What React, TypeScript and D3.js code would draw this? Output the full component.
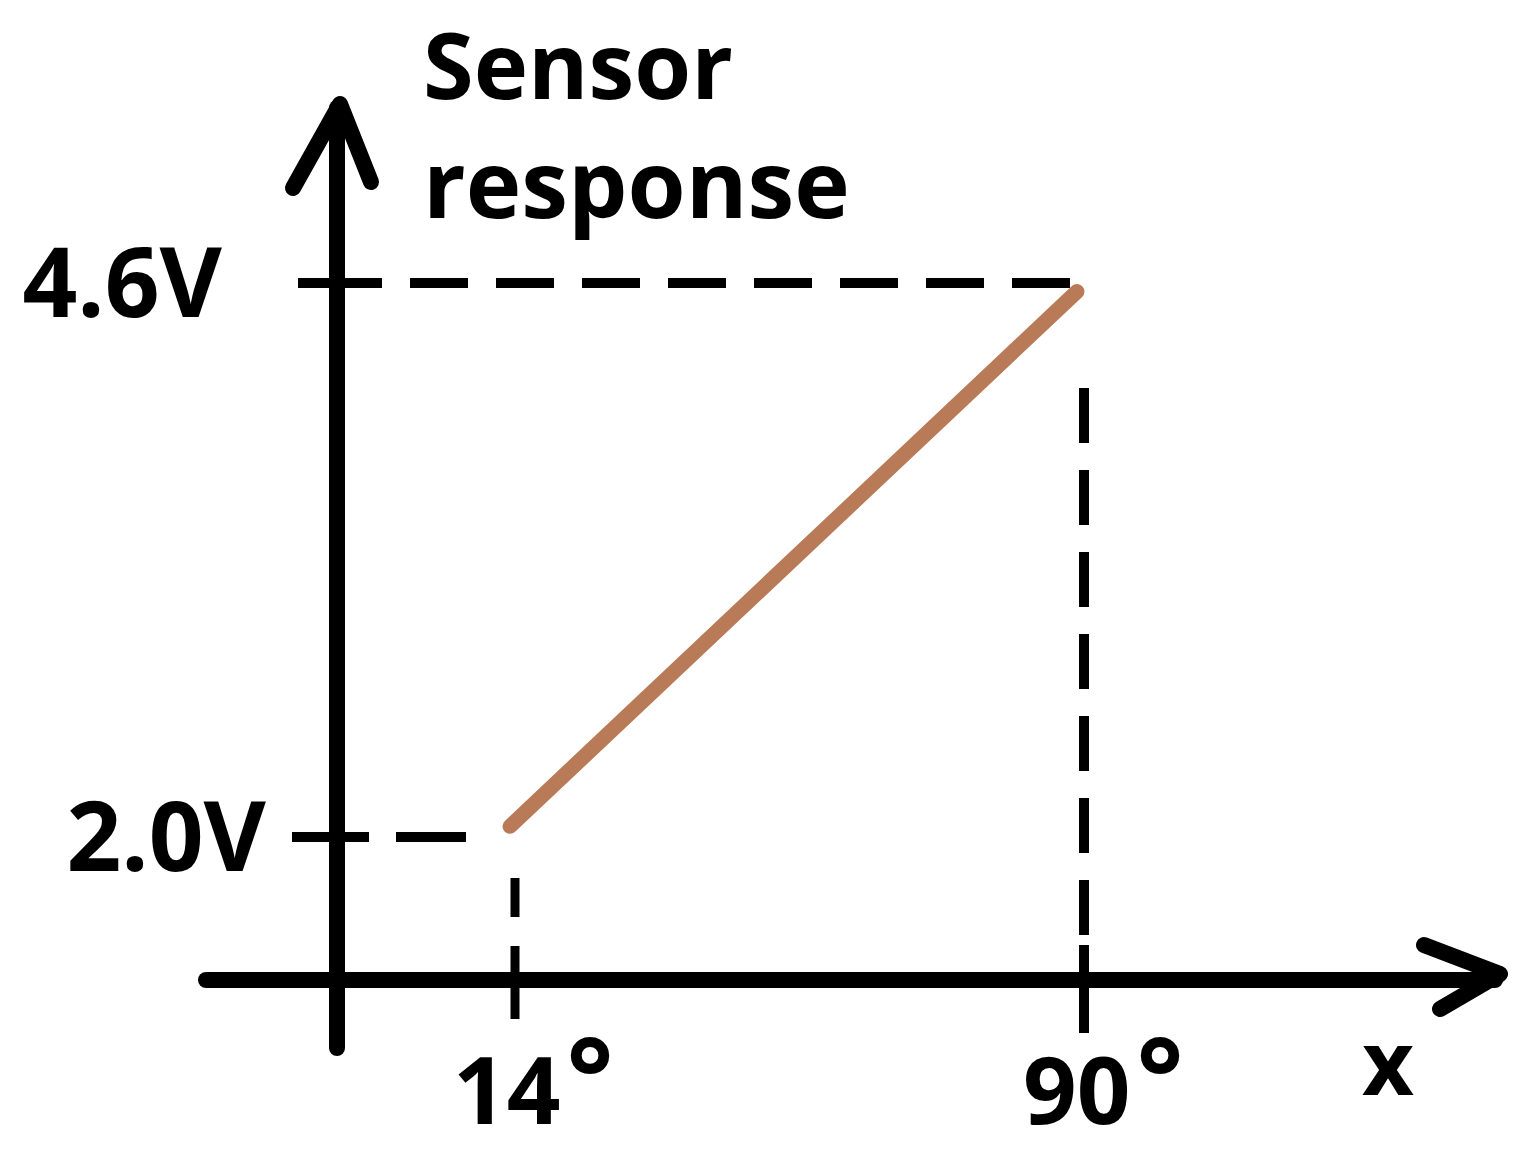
import React from "react";
import * as d3 from "d3";

// axis values and labels
const xTicks = [14, 90];
const xTickNums = ["14", "90"];
const yTicks = [2.0, 4.6];
const yTickLabels = ["2.0V", "4.6V"];
const yTitle = ["Sensor", "response"];
const xTitle = "x";

// the brown response line (hand drawn, slightly off the guide corners)
const responseX = [13.6, 89.2];
const responseV = [2.05, 4.56];

const W = 1530;
const H = 1154;

export default function App() {
  const x = d3.scaleLinear().domain([14, 90]).range([513, 1083]);
  const y = d3.scaleLinear().domain([2.0, 4.6]).range([837, 283]);

  const originX = 337;
  const originY = 980;

  const pts = responseX.map((d, i) => [x(d), y(responseV[i])] as [number, number]);
  const line = d3.line();

  const font = "'Open Sans', sans-serif";
  const weight = 700;

  return (
    <svg width={W} height={H} style={{ position: "absolute", left: 0, top: 0, background: "#fff" }}>
      {/* guide dashes */}
      <line x1={410} x2={1072} y1={y(4.6)} y2={y(4.6)} stroke="#000" strokeWidth={10} strokeDasharray="58 28" />
      <line x1={396} x2={466} y1={y(2.0)} y2={y(2.0)} stroke="#000" strokeWidth={10} />
      <line x1={x(14) + 2} x2={x(14) + 2} y1={878} y2={917} stroke="#000" strokeWidth={9} />
      <line x1={x(90) + 1} x2={x(90) + 1} y1={388} y2={940} stroke="#000" strokeWidth={10} strokeDasharray="55 27" />

      {/* ticks */}
      <line x1={298} x2={382} y1={y(4.6)} y2={y(4.6)} stroke="#000" strokeWidth={10} />
      <line x1={292} x2={369} y1={y(2.0)} y2={y(2.0)} stroke="#000" strokeWidth={10} />
      <line x1={x(14) + 2} x2={x(14) + 2} y1={946} y2={1019} stroke="#000" strokeWidth={9} />
      <line x1={x(90) + 1} x2={x(90) + 1} y1={945} y2={1033} stroke="#000" strokeWidth={10} />

      {/* axes */}
      <line x1={originX} x2={originX} y1={1048} y2={108} stroke="#000" strokeWidth={16} strokeLinecap="round" />
      <polyline points="293,188 340,104 371,182" fill="none" stroke="#000" strokeWidth={16} strokeLinecap="round" strokeLinejoin="round" />
      <line x1={206} x2={1495} y1={originY} y2={originY} stroke="#000" strokeWidth={16} strokeLinecap="round" />
      <polyline points="1424,945 1500,974 1440,1009" fill="none" stroke="#000" strokeWidth={16} strokeLinecap="round" strokeLinejoin="round" />

      {/* response */}
      <path d={line(pts) || ""} fill="none" stroke="#b97a57" strokeWidth={15} strokeLinecap="round" />

      {/* labels */}
      {yTicks.map((v, i) => (
        <text key={v} x={i === 0 ? 266 : 222} y={y(v) + 34} textAnchor="end" fontFamily={font} fontWeight={weight} fontSize={96} fill="#000">
          {yTickLabels[i]}
        </text>
      ))}
      {xTicks.map((v, i) => (
        <text key={v} x={i === 0 ? 453 : 1023} y={1124} fontFamily={font} fontWeight={weight} fontSize={94} fill="#000">
          {xTickNums[i]}
          <tspan dx={6} dy={-8} fontSize={110}>°</tspan>
        </text>
      ))}
      {yTitle.map((t, i) => (
        <text key={t} x={423} y={i === 0 ? 99 : 218} fontFamily={font} fontWeight={weight} fontSize={i === 0 ? 92 : 94} fill="#000">
          {t}
        </text>
      ))}
      <text x={1362} y={1095} fontFamily={font} fontWeight={weight} fontSize={90} fill="#000">
        {xTitle}
      </text>
    </svg>
  );
}
